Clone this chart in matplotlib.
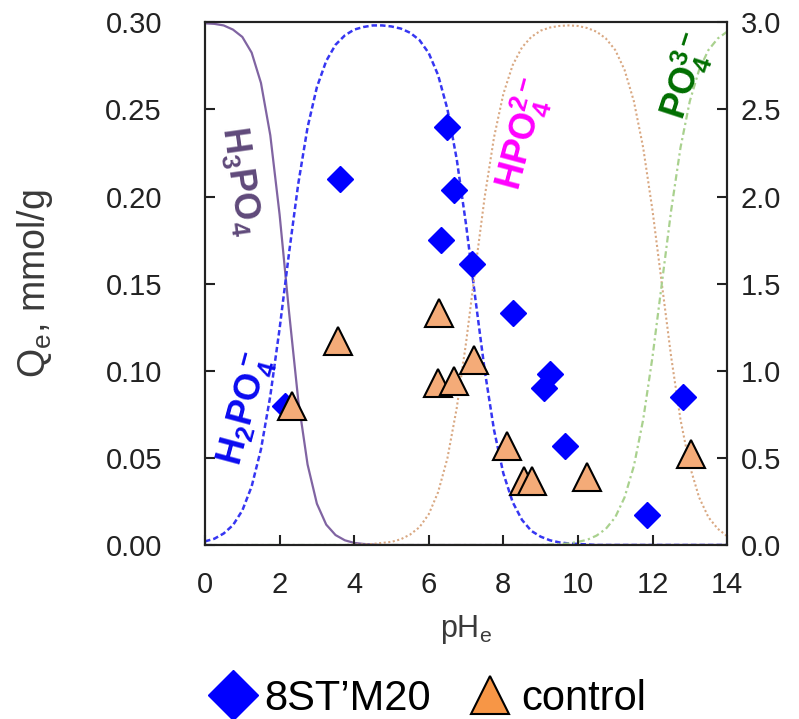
import numpy as np
import matplotlib
matplotlib.use('Agg')
import matplotlib.pyplot as plt
from matplotlib.lines import Line2D

plt.rcParams['font.family'] = ['Liberation Sans', 'DejaVu Sans']
plt.rcParams['mathtext.default'] = 'regular'

# speciation fractions of phosphate (pH step 0.25)
ph_grid = list(np.arange(0, 14.01, 0.25))
frac_h3po4 = [0.998, 0.997, 0.994, 0.986, 0.972, 0.942, 0.884, 0.784, 0.632, 0.448,
              0.277, 0.154, 0.079, 0.039, 0.019, 0.009, 0.004, 0.002, 0.001, 0.0,
              0.0, 0.0, 0.0, 0.0, 0.0, 0.0, 0.0, 0.0, 0.0, 0.0,
              0.0, 0.0, 0.0, 0.0, 0.0, 0.0, 0.0, 0.0, 0.0, 0.0,
              0.0, 0.0, 0.0, 0.0, 0.0, 0.0, 0.0, 0.0, 0.0, 0.0,
              0.0, 0.0, 0.0, 0.0, 0.0, 0.0, 0.0]
frac_h2po4 = [0.007, 0.012, 0.022, 0.038, 0.066, 0.112, 0.183, 0.285, 0.414, 0.557,
              0.691, 0.799, 0.876, 0.926, 0.957, 0.975, 0.986, 0.991, 0.994, 0.994,
              0.992, 0.988, 0.980, 0.966, 0.941, 0.899, 0.834, 0.738, 0.613, 0.471,
              0.334, 0.220, 0.137, 0.082, 0.048, 0.027, 0.016, 0.009, 0.005, 0.003,
              0.002, 0.001, 0.0, 0.0, 0.0, 0.0, 0.0, 0.0, 0.0, 0.0,
              0.0, 0.0, 0.0, 0.0, 0.0, 0.0, 0.0]
frac_hpo4 = [0.0, 0.0, 0.0, 0.0, 0.0, 0.0, 0.0, 0.0, 0.0, 0.0,
             0.0, 0.0, 0.0, 0.0, 0.0, 0.0, 0.001, 0.001, 0.002, 0.004,
             0.006, 0.011, 0.020, 0.034, 0.059, 0.101, 0.166, 0.262, 0.387, 0.529,
             0.666, 0.780, 0.863, 0.918, 0.952, 0.972, 0.984, 0.990, 0.993, 0.994,
             0.993, 0.989, 0.982, 0.969, 0.947, 0.909, 0.849, 0.760, 0.640, 0.500,
             0.360, 0.240, 0.151, 0.091, 0.053, 0.031, 0.017]
frac_po4 = [0.0, 0.0, 0.0, 0.0, 0.0, 0.0, 0.0, 0.0, 0.0, 0.0,
            0.0, 0.0, 0.0, 0.0, 0.0, 0.0, 0.0, 0.0, 0.0, 0.0,
            0.0, 0.0, 0.0, 0.0, 0.0, 0.0, 0.0, 0.0, 0.0, 0.0,
            0.0, 0.0, 0.0, 0.0, 0.0, 0.0, 0.0, 0.001, 0.002, 0.003,
            0.006, 0.010, 0.018, 0.031, 0.053, 0.091, 0.151, 0.240, 0.360, 0.500,
            0.640, 0.760, 0.849, 0.909, 0.947, 0.969, 0.982]

# adsorption data, Qe (mmol/g) vs equilibrium pH
st_ph = [6.49, 3.63, 6.67, 6.33, 7.15, 8.26, 9.26, 9.08, 9.65, 11.84, 12.82, 2.15]
st_qe = [0.240, 0.210, 0.204, 0.175, 0.161, 0.133, 0.098, 0.090, 0.057, 0.017, 0.085, 0.080]
ctl_ph = [2.32, 3.57, 6.28, 6.24, 6.68, 7.22, 8.09, 8.55, 8.77, 10.24, 13.03]
ctl_qe = [0.080, 0.117, 0.133, 0.093, 0.094, 0.106, 0.057, 0.037, 0.037, 0.039, 0.052]

fig = plt.figure(figsize=(7.99, 7.19), dpi=100)
ax = fig.add_axes([0.2566, 0.242, 0.6534, 0.727])
ax.set_xlim(0, 14)
ax.set_ylim(0, 0.30)

trans = ax.get_xaxis_transform()  # fractions 0..1 span the full height
ax.plot(ph_grid, frac_h3po4, color='#8064A2', lw=1.6, transform=trans, zorder=1)
ax.plot(ph_grid, frac_h2po4, color='#3636F2', lw=1.8, ls=(0, (2.2, 1.2)), transform=trans, zorder=1)
ax.plot(ph_grid, frac_hpo4, color='#D9A882', lw=1.5, ls=(0, (1, 1.2)), transform=trans, zorder=1)
ax.plot(ph_grid, frac_po4, color='#A9D18E', lw=1.6, ls=(0, (3, 1.5, 1, 1.5)), transform=trans, zorder=1)

ax.plot(st_ph, st_qe, ls='none', marker='D', ms=13.5, color='#0000FF', mec='#0000FF', zorder=3)
ax.plot(ctl_ph, ctl_qe, ls='none', marker='^', ms=20, mfc='#F4AB78', mec='black', mew=1.5, zorder=4)

# species labels
ax.text(0.94, 0.209, 'H$_3$PO$_4$', color='#5F497A', fontsize=26, fontweight='bold',
        rotation=-82, ha='center', va='center', rotation_mode='anchor')
ax.text(1.12, 0.078, 'H$_2$PO$_4^-$', color='#0A0AF0', fontsize=26, fontweight='bold',
        rotation=75, ha='center', va='center', rotation_mode='anchor')
ax.text(8.55, 0.236, 'HPO$_4^{2-}$', color='#FF00FF', fontsize=26, fontweight='bold',
        rotation=75, ha='center', va='center', rotation_mode='anchor')
ax.text(12.91, 0.269, 'PO$_4^{3-}$', color='#006E00', fontsize=26, fontweight='bold',
        rotation=72, ha='center', va='center', rotation_mode='anchor')

ax.set_xticks(np.arange(0, 15, 2))
ax.set_yticks(np.arange(0, 0.31, 0.05))
ax.yaxis.set_major_formatter(plt.FormatStrFormatter('%.2f'))
ax.tick_params(direction='in', length=7, width=1.5, labelsize=21, colors='#222222')
ax.tick_params(axis='y', pad=31)
ax.tick_params(axis='x', pad=19)
ax.set_xlabel('pH$_e$', fontsize=22, color='#3a3a3a', labelpad=10)
ax.set_ylabel('Q$_e$, mmol/g', fontsize=27, color='#3a3a3a', labelpad=36)

ax2 = ax.twinx()
ax2.set_ylim(0, 3.0)
ax2.set_yticks(np.arange(0, 3.01, 0.5))
ax2.yaxis.set_major_formatter(plt.FormatStrFormatter('%.1f'))
ax2.tick_params(direction='in', length=7, width=1.5, labelsize=21, colors='#222222', pad=10)

for a in (ax, ax2):
    for s in a.spines.values():
        s.set_linewidth(1.5)
        s.set_color('#222222')

handles = [Line2D([], [], ls='none', marker='D', ms=25, color='#0000FF'),
           Line2D([], [], ls='none', marker='^', ms=28, mfc='#F79646', mec='black', mew=1.5)]
fig.legend(handles, ['8ST\u2019M20', 'control'], loc='center', bbox_to_anchor=(0.537, 0.028),
           ncol=2, frameon=False, fontsize=30, handlelength=1.0, handletextpad=0.25, columnspacing=0.9)

fig.savefig('out.png', dpi=100)
